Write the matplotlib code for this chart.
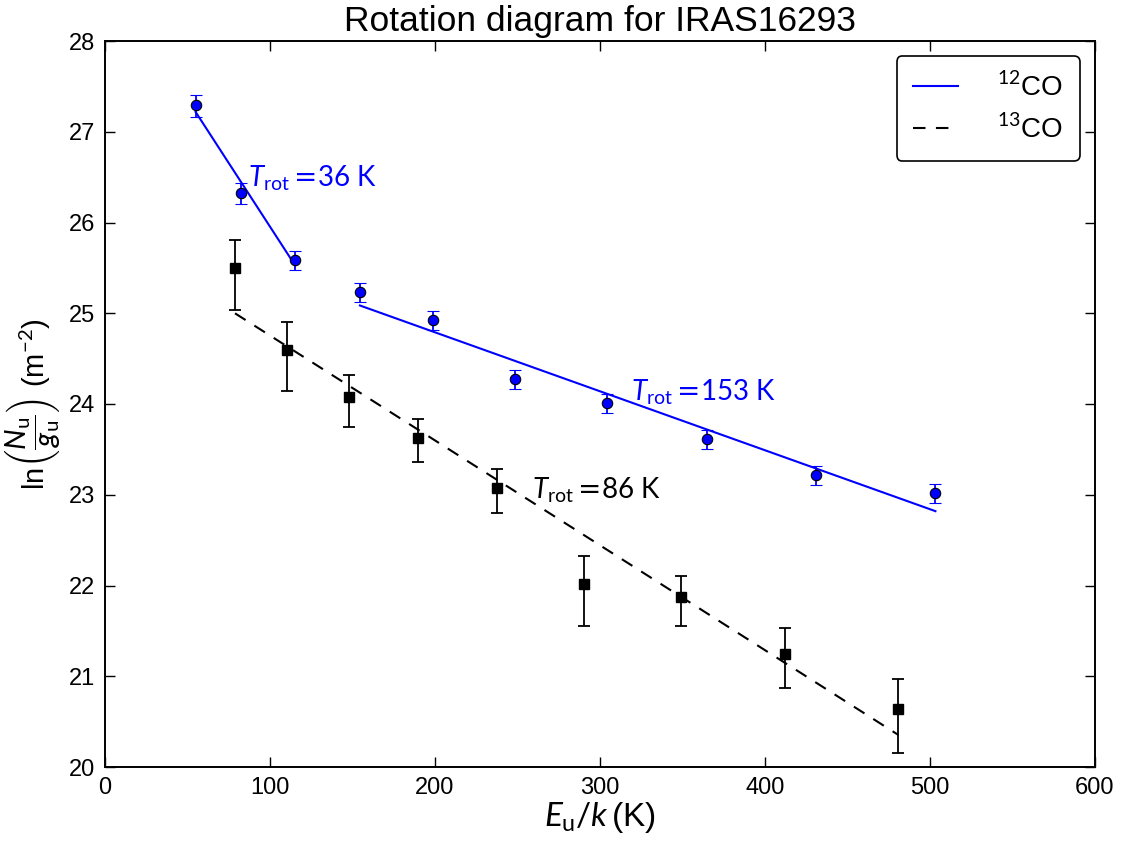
import numpy as np
import matplotlib
matplotlib.use("Agg")
import matplotlib.pyplot as plt

# ---- data ----
co12_E = [54.9, 82.3, 115.1, 154.5, 198.6, 248.5, 304.1, 364.7, 431.0, 503.3]
co12_lnN = [27.29, 26.32, 25.59, 25.23, 24.93, 24.28, 24.01, 23.61, 23.22, 23.02]
co12_err_hi = [0.12, 0.11, 0.10, 0.10, 0.10, 0.10, 0.10, 0.10, 0.10, 0.10]
co12_err_lo = [0.13, 0.12, 0.11, 0.11, 0.11, 0.11, 0.11, 0.11, 0.11, 0.11]
co12_split = 3  # first 3 points -> warm component, rest -> second fit

co13_E = [78.8, 110.5, 147.7, 189.7, 237.4, 290.5, 348.9, 412.1, 480.9]
co13_lnN = [25.50, 24.59, 24.08, 23.63, 23.07, 22.02, 21.87, 21.25, 20.64]
co13_err_hi = [0.31, 0.31, 0.24, 0.20, 0.21, 0.31, 0.24, 0.28, 0.33]
co13_err_lo = [0.46, 0.45, 0.33, 0.27, 0.27, 0.47, 0.32, 0.38, 0.49]

labels_Trot = [r"$T_{\rm rot}\mathsf{=}\!36\ {\rm K}$",
               r"$T_{\rm rot}\mathsf{=}\!153\ {\rm K}$",
               r"$T_{\rm rot}\mathsf{=}\!86\ {\rm K}$"]
label_pos = [(86.5, 26.40), (318.5, 24.04), (258.5, 22.96)]
label_colors = ["#0000ff", "#0000ff", "black"]

xticks = [0, 100, 200, 300, 400, 500, 600]
yticks = [20, 21, 22, 23, 24, 25, 26, 27, 28]

# ---- style ----
plt.rcParams['font.family'] = ['Liberation Sans', 'DejaVu Sans']
plt.rcParams['font.sans-serif'] = ['DejaVu Sans']
plt.rcParams['mathtext.fontset'] = 'custom'
plt.rcParams['mathtext.rm'] = 'Lato'
plt.rcParams['mathtext.it'] = 'Lato:italic'
plt.rcParams['mathtext.bf'] = 'Lato:bold'
plt.rcParams['mathtext.sf'] = 'DejaVu Sans'

BLUE = "#0000ff"

fig = plt.figure(figsize=(11.25, 8.42), dpi=100)
ax = fig.add_axes([105/1125, 75/842, 990/1125, 726/842])

def fit_line(x, y):
    x = np.asarray(x); y = np.asarray(y)
    p = np.polyfit(x, y, 1)
    xs = np.array([x.min(), x.max()])
    return xs, np.polyval(p, xs)

# 12CO
e12 = np.array(co12_E); n12 = np.array(co12_lnN)
ax.errorbar(e12, n12, yerr=[co12_err_lo, co12_err_hi], fmt='o', color=BLUE,
            ecolor=BLUE, mec='black', mew=0.8, ms=7.5, capsize=4.3,
            elinewidth=1.3, capthick=1.3, zorder=3)
xs, ys = fit_line(e12[:co12_split], n12[:co12_split])
ax.plot(xs, ys, color=BLUE, lw=1.5, label=r"$^{12}$CO", zorder=2)
xs, ys = fit_line(e12[co12_split:], n12[co12_split:])
ax.plot(xs, ys, color=BLUE, lw=1.5, zorder=2)

# 13CO
e13 = np.array(co13_E); n13 = np.array(co13_lnN)
ax.errorbar(e13, n13, yerr=[co13_err_lo, co13_err_hi], fmt='s', color='black',
            ecolor='black', ms=7.5, capsize=4.3, elinewidth=1.3, capthick=1.3,
            zorder=3)
xs, ys = fit_line(e13, n13)
ax.plot(xs, ys, color='black', lw=1.5, linestyle=(0, (6, 5)),
        label=r"$^{13}$CO", zorder=2)

for txt, (tx, ty), c in zip(labels_Trot, label_pos, label_colors):
    ax.text(tx, ty, txt, color=c, fontsize=20, va='baseline', ha='left',
            zorder=4)

ax.set_xlim(0, 600)
ax.set_ylim(20, 28)
ax.set_xticks(xticks)
ax.set_yticks(yticks)
ax.tick_params(direction='in', top=True, right=True, length=7, width=1,
               labelsize=17, pad=7)
for s in ax.spines.values():
    s.set_linewidth(1.4)

ax.set_title("Rotation diagram for IRAS16293", fontsize=25.5, pad=7)
ax.set_xlabel(r"$E_{\rm u}/k\,$(K)", fontsize=24, labelpad=1)
ax.set_ylabel(r"ln$\left(\dfrac{N_{\rm u}}{g_{\rm u}}\right)$ (m$^{-2}$)",
              fontsize=21, labelpad=4)

leg = ax.legend(loc='upper right', fontsize=20, fancybox=True, framealpha=1,
                edgecolor='black', handlelength=1.62, handletextpad=1.4,
                borderpad=0.6, labelspacing=0.45, borderaxespad=0.55,
                numpoints=1)
leg.get_frame().set_linewidth(1.2)

fig.savefig("out.png", dpi=100)
